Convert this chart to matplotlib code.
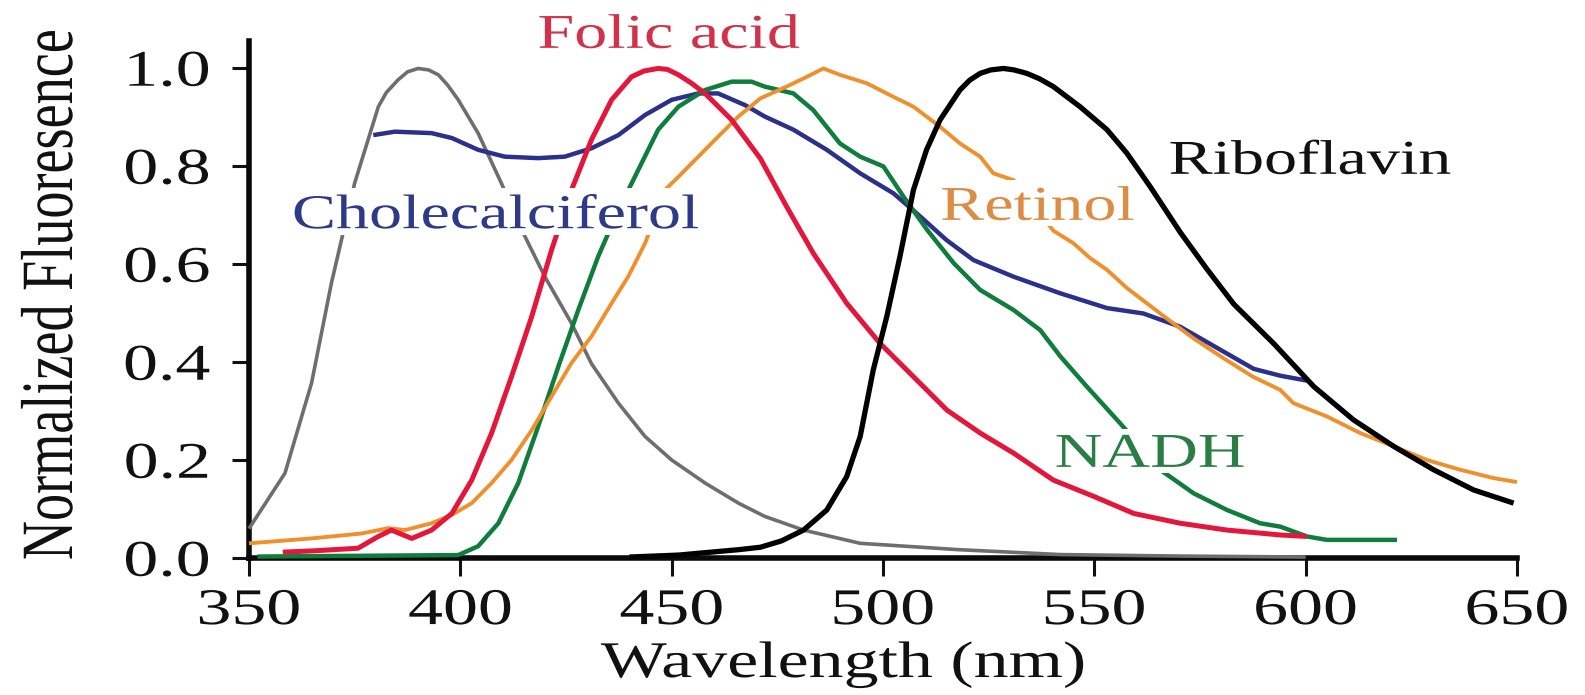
import matplotlib
matplotlib.use("Agg")
import matplotlib.pyplot as plt
from matplotlib.patheffects import AbstractPathEffect
from matplotlib.transforms import Affine2D
from matplotlib.path import Path

# ---------------- data ----------------
x_ticks = [350, 400, 450, 500, 550, 600, 650]
y_ticks = [0.0, 0.2, 0.4, 0.6, 0.8, 1.0]
y_ticklabels = ["0.0", "0.2", "0.4", "0.6", "0.8", "1.0"]

gray_nm = [350, 358.5, 364.8, 369.5, 375, 380.6, 382.5, 385.3, 387.5, 390, 392.5, 394.8,
           397, 399.5, 404.2, 409.7, 415.3, 420, 426.3, 431, 437.4, 443.7, 450, 457.9,
           465.8, 472, 481.2, 494.6, 518, 542, 570, 600]
gray_val = [0.06, 0.173, 0.357, 0.561, 0.765, 0.921, 0.950, 0.976, 0.992, 0.999, 0.996, 0.986,
            0.965, 0.935, 0.867, 0.765, 0.656, 0.574, 0.479, 0.397, 0.316, 0.248, 0.200, 0.153,
            0.112, 0.085, 0.057, 0.030, 0.017, 0.007, 0.004, 0.002]

chole_nm = [379.4, 384.5, 393.2, 398, 404.2, 410.5, 418.4, 424.7, 431, 437.4, 443.7,
            450, 456.3, 461, 467.4, 472, 478.8, 486.7, 494.6, 502.5, 508.8, 515,
            521.4, 530.9, 542, 553, 561.6, 570.3, 579.8, 587.7, 594, 600.3]
chole_val = [0.863, 0.870, 0.867, 0.857, 0.833, 0.819, 0.816, 0.819, 0.836, 0.863, 0.904,
             0.935, 0.948, 0.948, 0.924, 0.901, 0.874, 0.833, 0.785, 0.744, 0.697, 0.649,
             0.608, 0.574, 0.540, 0.510, 0.499, 0.472, 0.425, 0.386, 0.372, 0.362]

folic_nm = [358, 366, 375.8, 380.6, 383.7, 388.5, 393.2, 398, 402.7, 407.4, 412.1,
            416.9, 421.6, 426.3, 431, 435.8, 440.5, 443.5, 446.8, 449, 451.6, 454.5, 457.9,
            464.2, 471, 477.2, 483.5, 491.4, 499.3, 507.2, 515.1, 523, 530.9, 540.3, 549.8,
            559.3, 570.3, 581.4, 594, 600.3]
folic_val = [0.012, 0.015, 0.020, 0.044, 0.057, 0.040, 0.057, 0.091, 0.159, 0.255, 0.370,
             0.493, 0.629, 0.751, 0.853, 0.935, 0.982, 0.994, 0.999, 0.997, 0.986, 0.970, 0.948,
             0.894, 0.815, 0.717, 0.622, 0.520, 0.438, 0.370, 0.302, 0.255, 0.214, 0.159, 0.126,
             0.091, 0.071, 0.057, 0.047, 0.044]

nadh_nm = [352, 399.5, 404.2, 409, 413.7, 418.4, 423.2, 427.9, 432.6, 437.4, 442.1,
           446.8, 451.6, 457.9, 464.2, 468.9, 472, 478.8, 483.5, 489.8, 494.6, 500.1,
           504.8, 510.4, 516.7, 523, 530.9, 537.2, 542, 548.2, 556.1, 565.6, 573.5,
           581.4, 589.2, 594, 600.3, 605, 621.6]
nadh_val = [0.003, 0.006, 0.024, 0.071, 0.153, 0.268, 0.391, 0.506, 0.615, 0.710, 0.792,
            0.874, 0.921, 0.955, 0.972, 0.972, 0.962, 0.948, 0.914, 0.846, 0.819, 0.799,
            0.738, 0.670, 0.602, 0.547, 0.506, 0.465, 0.411, 0.350, 0.275, 0.180, 0.132,
            0.098, 0.071, 0.064, 0.044, 0.037, 0.037]

retinol_nm = [350, 364.8, 376.6, 383, 386.9, 393.2, 398, 402.7, 407.4, 412.1, 416.9,
              421.6, 426.3, 431, 435.8, 439.7, 443.7, 448.4, 451.6, 456.3, 461, 465.8,
              471, 477.2, 482, 485.9, 489.8, 496.1, 502.5, 507.2, 513.5, 518.2, 523,
              526.1, 530.9, 540.3, 545.1, 549, 553, 557.7, 562.4, 566.5, 573.5, 580.5,
              587.5, 594, 597.1, 605, 612.9, 620.8, 628.7, 636.6, 644.5, 650]
retinol_val = [0.030, 0.040, 0.050, 0.061, 0.057, 0.071, 0.088, 0.112, 0.153, 0.200, 0.261,
               0.330, 0.398, 0.452, 0.520, 0.574, 0.642, 0.751, 0.778, 0.819, 0.860, 0.901,
               0.938, 0.962, 0.982, 0.999, 0.986, 0.969, 0.941, 0.921, 0.880, 0.846, 0.819,
               0.785, 0.771, 0.668, 0.642, 0.612, 0.588, 0.551, 0.520, 0.493, 0.448, 0.408,
               0.370, 0.343, 0.316, 0.289, 0.255, 0.228, 0.200, 0.180, 0.163, 0.155]

ribo_nm = [440, 451.6, 465.8, 471, 476, 481.2, 486.7, 491.4, 494.6, 497.7, 500.9, 504, 507.2,
           510.3, 513.5, 518.2, 520.5, 523, 525.5, 528.5, 531, 534, 537, 540.3, 546.6, 553,
           557.7, 563.2, 570.3, 576.6, 583, 592.4, 601.9, 611.3, 620.8, 630.3, 639.7, 649.2]
ribo_val = [0.002, 0.006, 0.017, 0.022, 0.035, 0.057, 0.098, 0.166, 0.248, 0.384, 0.493, 0.615,
            0.751, 0.833, 0.894, 0.955, 0.975, 0.989, 0.996, 0.999, 0.996, 0.989, 0.978, 0.962,
            0.921, 0.874, 0.826, 0.758, 0.665, 0.590, 0.518, 0.438, 0.350, 0.282, 0.228, 0.180,
            0.139, 0.112]

label_names = ["Folic acid", "Cholecalciferol", "Retinol", "Riboflavin", "NADH"]
label_x = [449.4, 408.5, 536.6, 601.1, 563.2]
label_y = [1.041, 0.673, 0.690, 0.784, 0.186]


# ------------- horizontal stretch of glyphs (reference text is widened) -------------
class Stretch(AbstractPathEffect):
    def __init__(self, sx=1.36, anchor="center", vertical=False, box=False, pad=6):
        super().__init__()
        self.sx = sx
        self.anchor = anchor
        self.vertical = vertical
        self.box = box
        self.pad = pad

    def draw_path(self, renderer, gc, tpath, affine, rgbFace=None):
        ext = tpath.get_extents()
        if self.vertical:
            pre = Affine2D().scale(1.0, self.sx)
        else:
            if self.anchor == "right":
                c = ext.x1
            elif self.anchor == "left":
                c = 0.0
            else:
                c = 0.5 * (ext.x0 + ext.x1)
            pre = Affine2D().translate(-c, 0).scale(self.sx, 1.0).translate(c, 0)
        tr = pre + affine
        if self.box:
            bb = tpath.get_extents(tr)
            p = self.pad
            rect = Path([(bb.x0 - p, bb.y0 - p), (bb.x1 + p, bb.y0 - p),
                         (bb.x1 + p, bb.y1 + p), (bb.x0 - p, bb.y1 + p),
                         (bb.x0 - p, bb.y0 - p)], closed=True)
            gc0 = renderer.new_gc()
            gc0.copy_properties(gc)
            gc0.set_linewidth(0)
            gc0.set_alpha(1.0)
            renderer.draw_path(gc0, rect, Affine2D(), (1, 1, 1))
        renderer.draw_path(gc, tpath, tr, rgbFace)


SX = 1.36
plt.rcParams["font.family"] = ["Liberation Serif", "DejaVu Serif"]

fig = plt.figure(figsize=(15.85, 6.95), dpi=100)
ax = fig.add_axes([0.1571, 0.1971, 0.8000, 0.7439])
ax.set_xlim(350, 650)
ax.set_ylim(0, 1.055)

series = [
    (gray_nm, gray_val, "#6e6e6e", 2.6),
    (chole_nm, chole_val, "#2b318a", 3.2),
    (nadh_nm, nadh_val, "#0f7d3c", 3.2),
    (retinol_nm, retinol_val, "#f0902c", 2.8),
    (folic_nm, folic_val, "#e3173c", 3.6),
    (ribo_nm, ribo_val, "#000000", 3.8),
]
for xs, ys, col, lw in series:
    ax.plot(xs, ys, color=col, lw=lw, zorder=3, clip_on=False,
            solid_joinstyle="round", solid_capstyle="butt")

for s in ["top", "right"]:
    ax.spines[s].set_visible(False)
for s in ["left", "bottom"]:
    ax.spines[s].set_linewidth(4.0)
    ax.spines[s].set_color("#0a0a0a")
    ax.spines[s].set_capstyle("projecting")

ax.set_xticks(x_ticks)
ax.set_xticklabels([str(v) for v in x_ticks])
ax.set_yticks(y_ticks)
ax.set_yticklabels(y_ticklabels)
ax.tick_params(axis="x", direction="out", length=13, width=2.2, pad=9,
               labelsize=37, colors="#111111")
ax.tick_params(axis="y", direction="out", length=12, width=2.2, pad=16,
               labelsize=37, colors="#111111")
for lab in ax.get_xticklabels():
    lab.set_path_effects([Stretch(SX, "center")])
for lab in ax.get_yticklabels():
    lab.set_path_effects([Stretch(SX, "right")])

ax.set_xlabel("Wavelength (nm)", fontsize=37, color="#111111")
ax.xaxis.set_label_coords(0.4685, -0.2302)
ax.xaxis.label.set_va("baseline")
ax.xaxis.label.set_path_effects([Stretch(SX, "center")])

ax.set_ylabel("Normalized Fluoresence", fontsize=39, color="#111111")
ax.yaxis.set_label_coords(-0.1396, 0.509)
ax.yaxis.label.set_va("baseline")
ax.yaxis.label.set_path_effects([Stretch(SX, vertical=True)])

label_colors = ["#d23249", "#2e3a88", "#dc8d45", "#111111", "#2a7d45"]
label_box = [False, True, True, False, True]
for name, lx, ly, col, bx in zip(label_names, label_x, label_y, label_colors, label_box):
    ax.text(lx, ly, name, fontsize=35, color=col, ha="center", va="baseline",
            zorder=6, clip_on=False,
            path_effects=[Stretch(SX, "center", box=bx, pad=6)])

fig.savefig("out.png", dpi=100, facecolor="white")
